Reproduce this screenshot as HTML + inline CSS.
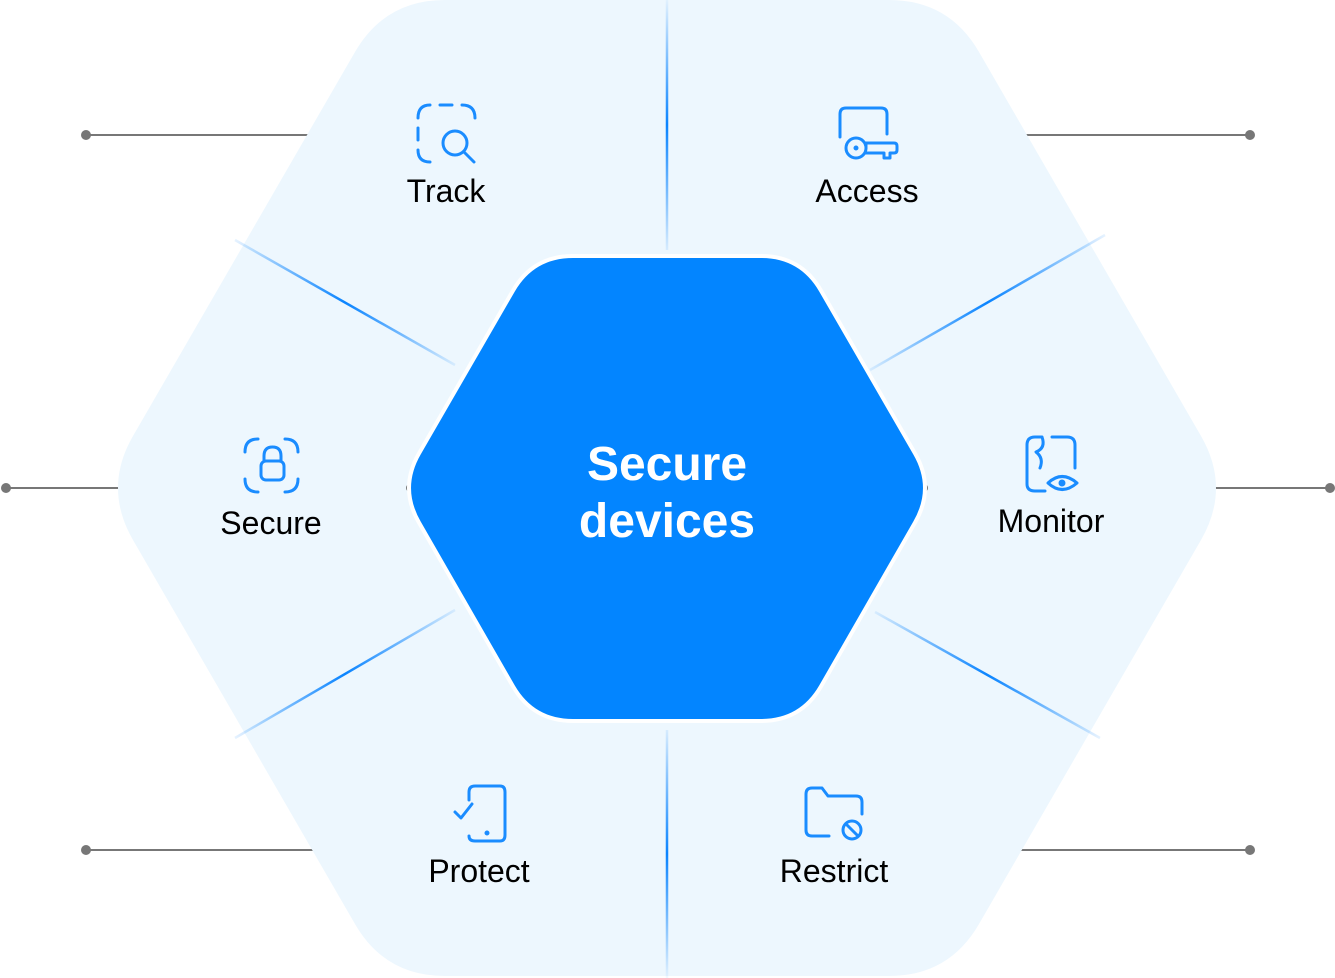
<!DOCTYPE html>
<html><head><meta charset="utf-8"><style>
html,body{margin:0;padding:0;background:#fff;}
svg{display:block;}
text{font-family:"Liberation Sans",sans-serif;}
</style></head><body>
<svg width="1335" height="978" viewBox="0 0 1335 978" xmlns="http://www.w3.org/2000/svg">
<defs>
<linearGradient id="gv1" gradientUnits="userSpaceOnUse" x1="667" y1="0" x2="667" y2="250"><stop offset="0" stop-color="#0a84ff" stop-opacity="0.05"/><stop offset="0.5" stop-color="#0a84ff"/><stop offset="1" stop-color="#0a84ff" stop-opacity="0.1"/></linearGradient>
<linearGradient id="gv2" gradientUnits="userSpaceOnUse" x1="667" y1="730" x2="667" y2="978"><stop offset="0" stop-color="#0a84ff" stop-opacity="0.1"/><stop offset="0.5" stop-color="#0a84ff"/><stop offset="1" stop-color="#0a84ff" stop-opacity="0.05"/></linearGradient>
<linearGradient id="gd1" gradientUnits="userSpaceOnUse" x1="235" y1="240" x2="455" y2="365"><stop offset="0" stop-color="#0a84ff" stop-opacity="0.1"/><stop offset="0.5" stop-color="#0a84ff"/><stop offset="1" stop-color="#0a84ff" stop-opacity="0.1"/></linearGradient>
<linearGradient id="gd2" gradientUnits="userSpaceOnUse" x1="1105" y1="235" x2="870" y2="370"><stop offset="0" stop-color="#0a84ff" stop-opacity="0.1"/><stop offset="0.5" stop-color="#0a84ff"/><stop offset="1" stop-color="#0a84ff" stop-opacity="0.1"/></linearGradient>
<linearGradient id="gd3" gradientUnits="userSpaceOnUse" x1="235" y1="738" x2="455" y2="610"><stop offset="0" stop-color="#0a84ff" stop-opacity="0.1"/><stop offset="0.5" stop-color="#0a84ff"/><stop offset="1" stop-color="#0a84ff" stop-opacity="0.1"/></linearGradient>
<linearGradient id="gd4" gradientUnits="userSpaceOnUse" x1="1100" y1="738" x2="875" y2="612"><stop offset="0" stop-color="#0a84ff" stop-opacity="0.1"/><stop offset="0.5" stop-color="#0a84ff"/><stop offset="1" stop-color="#0a84ff" stop-opacity="0.1"/></linearGradient>
</defs>
<g stroke="#777" stroke-width="2" fill="#777">
<line x1="86" y1="135" x2="310" y2="135"/><circle cx="86" cy="135" r="5" stroke="none"/>
<line x1="1025" y1="135" x2="1250" y2="135"/><circle cx="1250" cy="135" r="5" stroke="none"/>
<line x1="6" y1="488" x2="125" y2="488"/><circle cx="6" cy="488" r="5" stroke="none"/>
<line x1="1210" y1="488" x2="1330" y2="488"/><circle cx="1330" cy="488" r="5" stroke="none"/>
<line x1="86" y1="850" x2="315" y2="850"/><circle cx="86" cy="850" r="5" stroke="none"/>
<line x1="1020" y1="850" x2="1250" y2="850"/><circle cx="1250" cy="850" r="5" stroke="none"/>
</g>
<path d="M445,0 L889,0 Q949,0 979,52 L1201,436 Q1231,488 1201,540 L979,924 Q949,976 889,976 L445,976 Q385,976 355,924 L133,540 Q103,488 133,436 L355,52 Q385,0 445,0Z" fill="#edf7fe"/>
<g stroke-width="2.5">
<line x1="667" y1="0" x2="667" y2="250" stroke="url(#gv1)"/>
<line x1="667" y1="730" x2="667" y2="978" stroke="url(#gv2)"/>
<line x1="235" y1="240" x2="455" y2="365" stroke="url(#gd1)"/>
<line x1="1105" y1="235" x2="870" y2="370" stroke="url(#gd2)"/>
<line x1="235" y1="738" x2="455" y2="610" stroke="url(#gd3)"/>
<line x1="1100" y1="738" x2="875" y2="612" stroke="url(#gd4)"/>
</g>
<circle cx="410" cy="488" r="4" fill="#777"/><circle cx="924" cy="488" r="4" fill="#777"/>
<path d="M573,256 L761,256 Q801,256 821,290.6 L915,453.4 Q935,488 915,522.6 L821,686.4 Q801,721 761,721 L573,721 Q533,721 513,686.4 L419,522.6 Q399,488 419,453.4 L513,290.6 Q533,256 573,256Z" fill="#0385ff" stroke="#fff" stroke-width="4"/>
<text x="667" y="480" text-anchor="middle" fill="#fff" font-size="48" font-weight="bold">Secure</text>
<text x="667" y="537" text-anchor="middle" fill="#fff" font-size="48" font-weight="bold">devices</text>
<g font-size="32" fill="#000" text-anchor="middle">
<text x="446" y="202">Track</text>
<text x="867" y="202">Access</text>
<text x="271" y="534">Secure</text>
<text x="1051" y="532">Monitor</text>
<text x="479" y="882">Protect</text>
<text x="834" y="882">Restrict</text>
</g>
<g fill="none" stroke="#1a8cff" stroke-width="3" stroke-linecap="round" stroke-linejoin="round">
<path d="M418,118 Q418,105 430,105 M440,105 L452,105 M462,105 Q475,105 475,118 M418,128 L418,140 M418,150 Q418,162 430,162"/>
<circle cx="455" cy="143" r="12"/><line x1="464" y1="152" x2="474" y2="162"/>
<path d="M840,137 L840,114 Q840,108 846,108 L881,108 Q887,108 887,114 L887,134"/>
<circle cx="856" cy="148" r="10"/><path d="M866,148 L866,143 L894,143 Q897,143 897,146 L897,150 Q897,153 894,153 L890,153 L890,158 L884,158 L884,153 L866,153"/>
<circle cx="856" cy="148" r="1" fill="#1a8cff"/>
<path d="M245,452 Q245,439 258,439 M285,439 Q298,439 298,452 M245,479 Q245,492 258,492 M285,492 Q298,492 298,479"/>
<rect x="261" y="461" width="23" height="19" rx="5"/><path d="M264,461 L264,456 Q264,447 272.5,447 Q281,447 281,456 L281,461"/>
<path d="M1042,437 L1035,437 Q1027,437 1027,445 L1027,484 Q1027,491 1035,491 L1045,491 M1052,437 L1067,437 Q1075,437 1075,445 L1075,468 M1042,437 Q1046,448 1036,452 Q1044,458 1040,468"/>
<path d="M1048,483 Q1062,470 1077,483 Q1062,496 1048,483Z"/><circle cx="1062" cy="483" r="2" fill="#1a8cff"/>
<path d="M475,786 L500,786 Q505,786 505,792 L505,835 Q505,841 500,841 L475,841 Q469,841 469,836 M469,800 L469,792 Q469,786 475,786"/>
<path d="M455,812 L461,818 L472,804"/><circle cx="487" cy="833" r="1" fill="#1a8cff"/>
<path d="M829,836 L812,836 Q806,836 806,830 L806,794 Q806,788 812,788 L822,788 L828,796 L856,796 Q862,796 862,802 L862,814"/>
<circle cx="852" cy="830" r="9"/><line x1="846" y1="824" x2="858" y2="836"/>
</g>
</svg>
</body></html>
